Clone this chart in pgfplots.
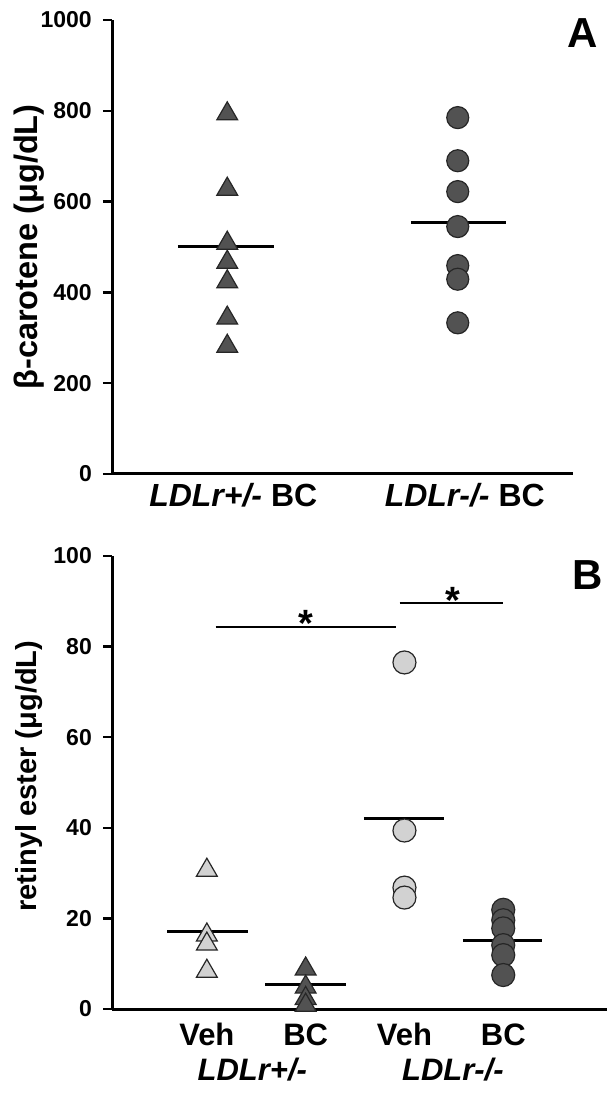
\documentclass[border=0pt]{standalone}
\usepackage{fontspec}
\setmainfont{Liberation Sans}
\usepackage{pgfplots}
\pgfplotsset{compat=1.18}
\definecolor{darkm}{HTML}{525252}
\definecolor{lightm}{HTML}{D2D2D2}
\definecolor{edgem}{HTML}{262626}

\begin{document}
\begin{tikzpicture}
\pgfplotsset{
 myaxis/.style={
  scale only axis, clip=false,
  axis x line*=bottom, axis y line*=left,
  axis line style={line width=3pt, -},
  tick align=outside, major tick length=9pt,
  ytick style={line width=2.5pt, black},
  xtick=\empty,
  /pgf/number format/assume math mode=true,
  /pgf/number format/set thousands separator={},
  yticklabel style={font=\fontsize{23}{27}\selectfont\bfseries, inner xsep=11pt},
  ylabel style={font=\fontsize{29}{34}\selectfont\bfseries, anchor=center},
 },
 med/.style={black, line width=3pt, no marks},
 sig/.style={black, line width=2pt, no marks},
}
% ---------------- Panel A ----------------
\begin{axis}[myaxis, at={(112pt,621pt)}, anchor=south west,
  width=461pt, height=454pt,
  xmin=0.5, xmax=2.5, ymin=0, ymax=1000,
  ytick={0,200,...,1000},
  ylabel={β-carotene (μg/dL)},
  ylabel style={at={(axis description cs:-0.18,0.5)}, font=\fontsize{32.5}{38}\selectfont\bfseries}]
\addplot[only marks, mark=triangle*, mark size=12pt,
  mark options={fill=darkm, draw=edgem, line width=1.2pt, yshift=-3pt}]
  coordinates {(1,800) (1,634) (1,515) (1,473) (1,430) (1,350) (1,288)};
\addplot[med] coordinates {(0.786,500) (1.203,500)};
\addplot[only marks, mark=*, mark size=11pt,
  mark options={fill=darkm, draw=edgem, line width=1.2pt}]
  coordinates {(2,785) (2,690) (2,622) (2,545) (2,459) (2,429) (2,333)};
\addplot[med] coordinates {(1.797,553) (2.209,553)};
\node[anchor=base, font=\fontsize{32}{38}\selectfont\bfseries, yshift=-33pt, xshift=6pt]
  at (axis cs:1,0) {{\itshape LDLr+/-} BC};
\node[anchor=base, font=\fontsize{32}{38}\selectfont\bfseries, yshift=-33pt, xshift=7pt]
  at (axis cs:2,0) {{\itshape LDLr-/-} BC};
\end{axis}
% ---------------- Panel B ----------------
\begin{axis}[myaxis, at={(112pt,86pt)}, anchor=south west,
  width=495pt, height=453pt,
  xmin=0.04, xmax=5.05, ymin=0, ymax=100,
  ytick={0,20,...,100},
  ylabel={retinyl ester (μg/dL)},
  ylabel style={at={(axis description cs:-0.168,0.514)}}]
\addplot[only marks, mark=triangle*, mark size=12pt,
  mark options={fill=lightm, draw=edgem, line width=1.2pt, yshift=-3pt}]
  coordinates {(1,31.3) (1,17.0) (1,15.0) (1,9.0)};
\addplot[med] coordinates {(0.60,17.0) (1.42,17.0)};
\addplot[only marks, mark=triangle*, mark size=12pt,
  mark options={fill=darkm, draw=edgem, line width=1.2pt, yshift=-3pt}]
  coordinates {(2,9.5) (2,5.5) (2,3.0) (2,1.5)};
\addplot[med] coordinates {(1.59,5.3) (2.41,5.3)};
\addplot[only marks, mark=*, mark size=11.5pt,
  mark options={fill=lightm, draw=edgem, line width=1.2pt}]
  coordinates {(3,76.5) (3,39.4) (3,26.8) (3,24.6)};
\addplot[med] coordinates {(2.59,42.0) (3.40,42.0)};
\addplot[only marks, mark=*, mark size=11.5pt,
  mark options={fill=darkm, draw=edgem, line width=1.2pt}]
  coordinates {(4,21.9) (4,19.6) (4,17.8) (4,14.1) (4,11.9) (4,7.5)};
\addplot[med] coordinates {(3.59,15.2) (4.39,15.2)};
% significance bars
\addplot[sig] coordinates {(1.09,84.3) (2.91,84.3)};
\addplot[sig] coordinates {(2.95,89.6) (4.00,89.6)};
\node[anchor=base, font=\fontsize{38}{44}\selectfont\bfseries] at (axis cs:2.0,82.2) {*};
\node[anchor=base, font=\fontsize{38}{44}\selectfont\bfseries] at (axis cs:3.49,87.4) {*};
% category labels
\node[anchor=base, font=\fontsize{31}{37}\selectfont\bfseries, yshift=-36pt] at (axis cs:1,0) {Veh};
\node[anchor=base, font=\fontsize{31}{37}\selectfont\bfseries, yshift=-36pt] at (axis cs:2,0) {BC};
\node[anchor=base, font=\fontsize{31}{37}\selectfont\bfseries, yshift=-36pt] at (axis cs:3,0) {Veh};
\node[anchor=base, font=\fontsize{31}{37}\selectfont\bfseries, yshift=-36pt] at (axis cs:4,0) {BC};
\node[anchor=base, font=\fontsize{31}{37}\selectfont\bfseries\itshape, yshift=-71pt] at (axis cs:1.46,0) {LDLr+/-};
\node[anchor=base, font=\fontsize{31}{37}\selectfont\bfseries\itshape, yshift=-71pt] at (axis cs:3.49,0) {LDLr-/-};
\end{axis}
% panel letters
\node[anchor=base west, inner sep=0pt, font=\fontsize{42}{50}\selectfont\bfseries] at (567pt,1047pt) {A};
\node[anchor=base west, inner sep=0pt, font=\fontsize{42}{50}\selectfont\bfseries] at (572pt,505pt) {B};
\pgfresetboundingbox
\useasboundingbox (0,0) rectangle (608pt,1095pt);
\end{tikzpicture}
\end{document}
